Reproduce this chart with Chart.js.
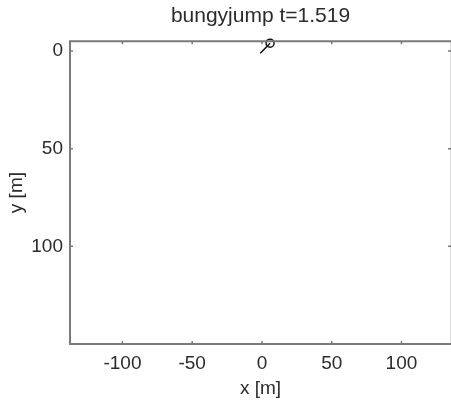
<!DOCTYPE html>
<html>
<head>
<meta charset="utf-8">
<script src="https://cdn.jsdelivr.net/npm/chart.js@4.4.1/dist/chart.umd.min.js"></script>
<style>
  html, body { margin: 0; padding: 0; background: #fff; }
  #wrap { width: 451px; height: 403px; }
</style>
</head>
<body>
<div id="wrap"><canvas id="c"></canvas></div>
<script>
// jumper path: rope end and current body position
const pathX = [-1.2, 5.8];
const pathY = [1.2, -4];
const xTicks = [-100, -50, 0, 50, 100];
const yTicks = [0, 50, 100];
const xRange = [-137.6, 135.5];
const yRange = [-5, 150];

const font = { family: 'Liberation Sans, Arial, sans-serif', size: 19 };
const titleFont = { family: 'Liberation Sans, Arial, sans-serif', size: 21, weight: 'normal' };
const ink = '#2b2b2b';
const boxColor = '#7a7a7a';

// box around plot plus small inward tick marks
const boxTicks = {
  id: 'boxTicks',
  afterDraw(chart) {
    const { ctx, chartArea: a, scales } = chart;
    ctx.save();
    // right edge is barely visible in the original
    ctx.strokeStyle = '#dadada';
    ctx.lineWidth = 1;
    ctx.beginPath();
    ctx.moveTo(a.right - 0.5, a.top); ctx.lineTo(a.right - 0.5, a.bottom);
    ctx.stroke();
    ctx.strokeStyle = boxColor;
    ctx.lineWidth = 2;
    ctx.beginPath();
    ctx.moveTo(a.right, a.top); ctx.lineTo(a.left, a.top);
    ctx.lineTo(a.left, a.bottom); ctx.lineTo(a.right, a.bottom);
    ctx.stroke();
    ctx.lineWidth = 1.5;
    const len = 3;
    xTicks.forEach(v => {
      const px = scales.x.getPixelForValue(v);
      ctx.beginPath();
      ctx.moveTo(px, a.bottom); ctx.lineTo(px, a.bottom - len);
      ctx.moveTo(px, a.top); ctx.lineTo(px, a.top + len);
      ctx.stroke();
    });
    yTicks.forEach(v => {
      const py = scales.y.getPixelForValue(v);
      ctx.beginPath();
      ctx.moveTo(a.left, py); ctx.lineTo(a.left + len, py);
      ctx.moveTo(a.right, py); ctx.lineTo(a.right - len, py);
      ctx.stroke();
    });
    ctx.restore();
  }
};

new Chart(document.getElementById('c'), {
  type: 'scatter',
  data: {
    datasets: [{
      data: pathX.map((x, i) => ({ x: x, y: pathY[i] })),
      showLine: true,
      borderColor: '#111',
      borderWidth: 1.5,
      pointRadius: [0, 4],
      pointBorderWidth: 1.5,
      pointBorderColor: '#111',
      pointBackgroundColor: 'transparent',
      clip: false
    }]
  },
  options: {
    responsive: true,
    maintainAspectRatio: false,
    animation: false,
    layout: { autoPadding: false, padding: 0 },
    plugins: {
      legend: { display: false },
      tooltip: { enabled: false },
      title: {
        display: true,
        fullSize: false,
        text: 'bungyjump t=1.519',
        color: ink,
        font: titleFont,
        padding: { top: 4, bottom: 12 }
      }
    },
    scales: {
      x: {
        type: 'linear',
        min: xRange[0],
        max: xRange[1],
        afterBuildTicks: s => { s.ticks = xTicks.map(v => ({ value: v })); },
        afterFit: s => { s.height = 59; },
        grid: { display: false, drawTicks: false },
        border: { display: false },
        ticks: { color: ink, font: font, padding: 8 },
        title: { display: true, text: 'x [m]', color: ink, font: font, padding: { top: 0, bottom: 3 } }
      },
      y: {
        type: 'linear',
        reverse: true,
        min: yRange[0],
        max: yRange[1],
        afterBuildTicks: s => { s.ticks = yTicks.map(v => ({ value: v })); },
        afterFit: s => { s.width = 70; },
        grid: { display: false, drawTicks: false },
        border: { display: false },
        ticks: { color: ink, font: font, padding: 7 },
        title: { display: true, text: 'y [m]', color: ink, font: font, padding: { top: 5, bottom: 0 } }
      }
    }
  },
  plugins: [boxTicks]
});
</script>
</body>
</html>
